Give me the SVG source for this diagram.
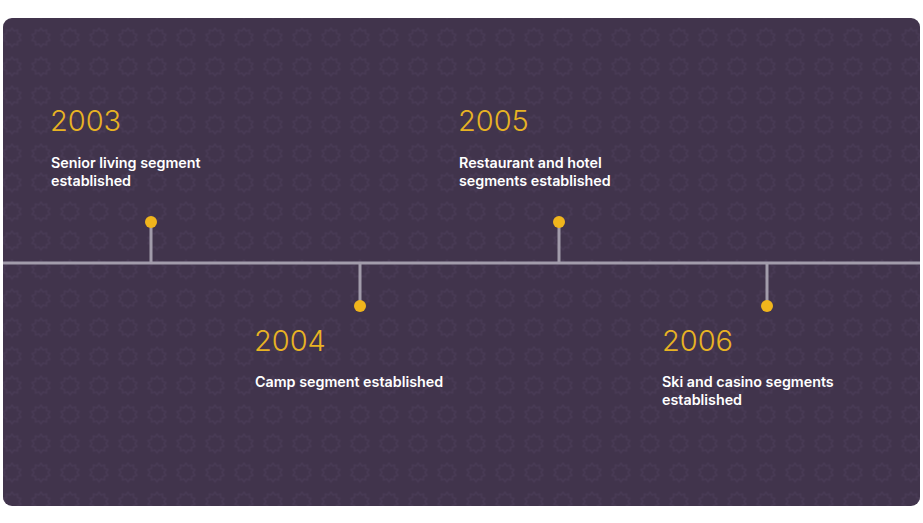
<svg xmlns="http://www.w3.org/2000/svg" width="923" height="523" viewBox="0 0 923 523">
<style>
.year{font-family:"Inter","Open Sans",sans-serif;font-weight:300;font-size:29px;fill:#e8b323}
.lbl{font-family:"Inter","Liberation Sans",sans-serif;font-weight:600;font-size:14.3px;fill:#ffffff}
.stem{stroke:#a29cab;stroke-width:3}
.dot{fill:#f0b51c}
</style>
<defs>
<pattern id="gears" patternUnits="userSpaceOnUse" x="-2.5" y="21.5" width="29" height="29">
<path d="M14.5,6.5 l2,3 3.5,-1 0,3.5 3.5,1 -2,3 2,3 -3.5,1 0,3.5 -3.5,-1 -2,3 -2,-3 -3.5,1 0,-3.5 -3.5,-1 2,-3 -2,-3 3.5,-1 0,-3.5 3.5,1 z" fill="none" stroke="#4a3c57" stroke-width="1.2"/>
</pattern>
</defs>
<rect x="3" y="18" width="917" height="488" rx="9" fill="#41344c"/>
<rect x="3" y="18" width="917" height="488" rx="9" fill="url(#gears)"/>
<g id="connectors">
<line class="stem" x1="3" y1="263" x2="920" y2="263"/>
<line class="stem" x1="151" y1="222" x2="151" y2="263"/>
<line class="stem" x1="360" y1="263" x2="360" y2="306"/>
<line class="stem" x1="559" y1="222" x2="559" y2="263"/>
<line class="stem" x1="767" y1="263" x2="767" y2="306"/>
</g>
<g id="n2003">
<circle class="dot" cx="151" cy="222" r="6"/>
<text class="year" x="50" y="131">2003</text>
<text class="lbl" x="51" y="168">Senior living segment</text>
<text class="lbl" x="51" y="186">established</text>
</g>
<g id="n2004">
<circle class="dot" cx="360" cy="306" r="6"/>
<text class="year" x="254" y="351">2004</text>
<text class="lbl" x="255" y="387">Camp segment established</text>
</g>
<g id="n2005">
<circle class="dot" cx="559" cy="222" r="6"/>
<text class="year" x="458" y="131">2005</text>
<text class="lbl" x="459" y="168">Restaurant and hotel</text>
<text class="lbl" x="459" y="186">segments established</text>
</g>
<g id="n2006">
<circle class="dot" cx="767" cy="306" r="6"/>
<text class="year" x="662" y="351">2006</text>
<text class="lbl" x="662" y="387">Ski and casino segments</text>
<text class="lbl" x="662" y="405">established</text>
</g>
</svg>
